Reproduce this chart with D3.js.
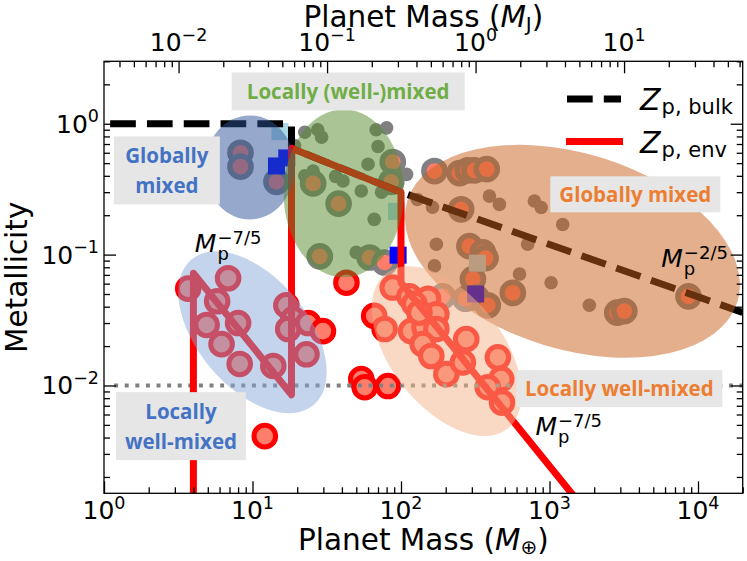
<!DOCTYPE html>
<html>
<head>
<meta charset="utf-8">
<script src="https://cdn.jsdelivr.net/npm/d3@7"></script>
<style>
body{margin:0;background:#fff}
svg{font-family:"DejaVu Sans",sans-serif}
</style>
</head>
<body>
<svg width="747" height="561"></svg>
<script>
// ---- values (mass in Earth masses, metallicity) ----
// small grey dots
var dotMass = [22.5,27.5,29.2,19.2,68, 80,70,60,22.5,25.6, 40.7,54,66,50,109, 74,394,460,791,879, 1227,173,713,168,628, 1025,1855,163,129,36.3];
var dotZ    = [0.86,0.90,0.79,0.68,0.90, 0.93,0.67,0.49,0.40,0.435, 0.365,0.306,0.186,0.104,0.41, 0.30,0.28,0.242,0.257,0.229, 0.170,0.12,0.12,0.082,0.071, 0.061,0.041,0.23,0.264,0.396];
// open rings, grey edge
var ringMass = [8.3,8.3,14.5,25.6,38, 88,86,28.4,61.5,168, 248,282,313,378,254, 289,356,371,305,321, 384,566,2860,3190,8630, 191,272,77.6];
var ringZ    = [0.60,0.47,0.36,0.35,0.245, 0.51,0.36,0.097,0.095,0.435, 0.42,0.44,0.44,0.45,0.222, 0.116,0.104,0.094,0.065,0.047, 0.041,0.051,0.036,0.037,0.048, 0.048,0.046,0.087];
// rings with red edge (envelope values)
var envMass = [3.69,6.85,5.78,4.91,8.0, 6.19,8.2,13.8,16.9,18.8, 17.4,23.7,29.8,23.1,12.1, 42.9,54,57,81.6,66, 77.6,88,114,152,123, 173,117,144,173,140, 160,202,275,261,449, 473,384,479,133];
var envZ    = [0.055,0.066,0.044,0.029,0.030, 0.0207,0.0146,0.0141,0.041,0.032, 0.027,0.030,0.026,0.0173,0.0041, 0.061,0.0112,0.0097,0.0099,0.034, 0.027,0.056,0.048,0.046,0.042, 0.035,0.026,0.0277,0.027,0.0207, 0.0168,0.0122,0.0226,0.0150,0.0164, 0.0112,0.0097,0.0074,0.036];
// squares
var blueSqMass  = [14.5,17.0,95.6,318];
var blueSqZ     = [0.476,0.548,0.099,0.050];
var lightSqMass = [15.3,93.4,327];
var lightSqZ    = [0.87,0.214,0.086];
// model curves
var bulkMass = [1.1,18.3,18.3,100,20000];
var bulkZ    = [1,1,0.65,0.3,0.0361];
var envLineMass = [4,4,18.3,18.3,100,100,3000];
var envLineZ    = [0.0005,0.072,0.0085,0.65,0.3,0.061,0.00052];
var floorMass = [1.17,20000];
var floorZ    = [0.01,0.01];
// shaded regions (centres)
var regionMass = [9.59,10.0,41.1,1426,203];
var regionZ    = [0.464,0.0255,0.294,0.106,0.0183];
// boxed labels
var labelText = [["Locally (well-)mixed"],["Globally","mixed"],["Globally mixed"],["Locally well-mixed"],["Locally","well-mixed"]];
var labelMass = [44.1,2.65,3783,2951,3.30];
var labelZ    = [1.765,0.44,0.289,0.00946,0.00489];
// power-law notes
var noteSup  = ["\u22127/5","\u22127/5","\u22122/5"];
var noteMass = [4.09,804,5660];
var noteZ    = [0.104,0.00417,0.080];
// tick labels (exponents)
var xTickExp = [0,1,2,3,4];
var yTickExp = [-2,-1,0];
var topTickExp = [-2,-1,0,1];

// ---- drawing ----
var svg = d3.select("svg");
var X0 = 104, X1 = 742.7, Y0 = 61.3, Y1 = 493.3;
var x = d3.scaleLog().domain([1, 2e4]).range([X0, X1]);
var xJ = d3.scaleLog().domain([1/317.8, 2e4/317.8]).range([X0, X1]);
var y = d3.scaleLog().domain([1.5e-3, 3]).range([Y1, Y0]);

function zip(ms, zs){ return ms.map(function(m, i){ return [m, zs[i]]; }); }
var line = d3.line().x(function(d){return x(d[0])}).y(function(d){return y(d[1])});

svg.append("defs").append("clipPath").attr("id", "plot").append("rect")
	.attr("x", X0).attr("y", Y0).attr("width", X1 - X0).attr("height", Y1 - Y0);
var plot = svg.append("g").attr("clip-path", "url(#plot)");

var salmon = "rgb(255,126,107)";

plot.selectAll("circle.dot").data(zip(dotMass, dotZ)).enter().append("circle")
	.attr("class", "dot")
	.attr("cx", function(d){return x(d[0])})
	.attr("cy", function(d){return y(d[1])})
	.attr("r", 6.8)
	.style("fill", "#808080");

plot.selectAll("circle.ring").data(zip(ringMass, ringZ)).enter().append("circle")
	.attr("class", "ring")
	.attr("cx", function(d){return x(d[0])})
	.attr("cy", function(d){return y(d[1])})
	.attr("r", 10.6)
	.style("fill", salmon).style("stroke", "#808080").style("stroke-width", 5.5);

plot.selectAll("circle.env").data(zip(envMass, envZ)).enter().append("circle")
	.attr("class", "env")
	.attr("cx", function(d){return x(d[0])})
	.attr("cy", function(d){return y(d[1])})
	.attr("r", 10.8)
	.style("fill", salmon).style("stroke", "red").style("stroke-width", 5);

function squares(ms, zs, color){
	plot.selectAll(null).data(zip(ms, zs)).enter().append("rect")
		.attr("x", function(d){return x(d[0]) - 8.5})
		.attr("y", function(d){return y(d[1]) - 8.5})
		.attr("width", 17).attr("height", 17)
		.style("fill", color);
}
squares(lightSqMass, lightSqZ, "rgb(173,216,230)");
squares(blueSqMass, blueSqZ, "blue");

plot.append("path").attr("d", line(zip(floorMass, floorZ)))
	.style("fill", "none").style("stroke", "#808080").style("stroke-width", 4)
	.style("stroke-dasharray", "4,6.6");
plot.append("path").attr("d", line(zip(bulkMass, bulkZ)))
	.style("fill", "none").style("stroke", "black").style("stroke-width", 7)
	.style("stroke-dasharray", "25.7,11.1").style("stroke-linejoin", "round");
plot.append("path").attr("d", line(zip(envLineMass, envLineZ)))
	.style("fill", "none").style("stroke", "red").style("stroke-width", 7)
	.style("stroke-linejoin", "round");

// M_p^{a} notes
function mathLabel(g, px, py, base, sub, sup, size, subSize, subDy, supDy){
	var t = g.append("text").attr("x", px).attr("y", py)
		.attr("font-size", size).attr("font-style", "italic").text(base);
	var w = t.node().getComputedTextLength();
	if (sub) g.append("text").attr("x", px + w + 1).attr("y", py + subDy).attr("font-size", subSize).text(sub);
	if (sup) g.append("text").attr("x", px + w + 1).attr("y", py - supDy).attr("font-size", subSize).text(sup);
}
var notes = svg.append("g").attr("fill", "black");
for (var i = 0; i < noteMass.length; i++){
	mathLabel(notes, x(noteMass[i]), y(noteZ[i]), "M", "p", noteSup[i], 25, 18, 8, 8);
}

// shaded regions on top, translucent
var regionStyle = [
	{rx: 45, ry: 52, rot: 0, fill: "rgb(45,84,153)", op: 0.5},
	{rx: 95, ry: 55, rot: 50, fill: "rgb(132,165,215)", op: 0.48},
	{rx: 60, ry: 84, rot: 0, fill: "rgb(85,137,45)", op: 0.5},
	{rx: 172.6, ry: 98, rot: 17, fill: "rgb(199,95,25)", op: 0.5},
	{rx: 98.6, ry: 55.8, rot: 52, fill: "rgb(243,177,137)", op: 0.5}
];
plot.selectAll("ellipse").data(zip(regionMass, regionZ)).enter().append("ellipse")
	.attr("transform", function(d, i){
		return "translate(" + x(d[0]) + "," + y(d[1]) + ") rotate(" + regionStyle[i].rot + ")";
	})
	.attr("rx", function(d, i){return regionStyle[i].rx})
	.attr("ry", function(d, i){return regionStyle[i].ry})
	.style("fill", function(d, i){return regionStyle[i].fill})
	.style("fill-opacity", function(d, i){return regionStyle[i].op});

// boxed labels
var labelStyle = [
	{w: 233, h: 38, color: "#70ad47"},
	{w: 106, h: 68, color: "#4472c4"},
	{w: 170, h: 36, color: "#ed7d31"},
	{w: 206, h: 37, color: "#ed7d31"},
	{w: 130, h: 68, color: "#4472c4"}
];
labelText.forEach(function(lines, i){
	var cx = x(labelMass[i]), cy = y(labelZ[i]), s = labelStyle[i];
	svg.append("rect").attr("x", cx - s.w/2).attr("y", cy - s.h/2)
		.attr("width", s.w).attr("height", s.h).style("fill", "#e6e6e6");
	lines.forEach(function(t, k){
		var base = lines.length == 1 ? cy + 7.5 : cy - 7.5 + 30*k;
		svg.append("text").attr("x", cx).attr("y", base)
			.attr("text-anchor", "middle")
			.style("font-family", "'Open Sans', sans-serif")
			.style("font-weight", "bold").style("font-size", "20.5px")
			.style("fill", s.color).text(t);
	});
});

// legend
var leg = svg.append("g");
leg.append("line").attr("x1", 567).attr("x2", 621).attr("y1", 99).attr("y2", 99)
	.style("stroke", "black").style("stroke-width", 7).style("stroke-dasharray", "25.7,11.1");
leg.append("line").attr("x1", 566).attr("x2", 623).attr("y1", 141.5).attr("y2", 141.5)
	.style("stroke", "red").style("stroke-width", 7);
mathLabel(leg, 640, 110, "Z", "p, bulk", null, 30, 21, 4, 0);
mathLabel(leg, 640, 153, "Z", "p, env", null, 30, 21, 4, 0);

// frame and ticks
function isMajor(v){ var l = Math.log10(v); return Math.abs(l - Math.round(l)) < 1e-6; }
function ticks(axis, scale, tr){
	var all = scale.ticks();
	var maj = all.filter(isMajor), mnr = all.filter(function(v){return !isMajor(v)});
	[[maj, 12], [mnr, 6]].forEach(function(p){
		var g = svg.append("g").attr("transform", tr)
			.call(axis(scale).tickValues(p[0]).tickSize(-p[1]).tickFormat(""));
		g.select(".domain").remove();
		g.selectAll("line").style("stroke", "black").style("stroke-width", 1.3);
	});
}
ticks(d3.axisBottom, x, "translate(0," + Y1 + ")");
ticks(d3.axisTop, xJ, "translate(0," + Y0 + ")");
ticks(d3.axisLeft, y, "translate(" + X0 + ",0)");
ticks(d3.axisRight, y, "translate(" + X1 + ",0)");
svg.append("rect").attr("x", X0).attr("y", Y0).attr("width", X1 - X0).attr("height", Y1 - Y0)
	.style("fill", "none").style("stroke", "black").style("stroke-width", 1.3);

function expText(e){ return e < 0 ? "\u2212" + (-e) : "" + e; }
function powLabel(px, py, e, anchor){
	var t = svg.append("text").attr("x", px).attr("y", py)
		.attr("text-anchor", anchor).attr("font-size", 25).text("10");
	t.append("tspan").attr("dy", -10.5).attr("font-size", 17.5).text(expText(e));
}
xTickExp.forEach(function(e){ powLabel(x(Math.pow(10, e)), 519, e, "middle"); });
topTickExp.forEach(function(e){ powLabel(xJ(Math.pow(10, e)), 51, e, "middle"); });
yTickExp.forEach(function(e){ powLabel(99, y(Math.pow(10, e)) + 9, e, "end"); });

// axis titles
function massTitle(py, sub){
	var t = svg.append("text").attr("x", (X0 + X1)/2).attr("y", py)
		.attr("text-anchor", "middle").attr("font-size", 29.5);
	t.append("tspan").text("Planet Mass (");
	t.append("tspan").attr("font-style", "italic").text("M");
	t.append("tspan").attr("font-size", 20).attr("dy", 4).text(sub);
	t.append("tspan").attr("dy", -4).text(")");
}
massTitle(550, "\u2295");
massTitle(27, "J");
svg.append("text").attr("transform", "translate(27," + (Y0 + Y1)/2 + ") rotate(-90)")
	.attr("text-anchor", "middle").attr("font-size", 29.5).text("Metallicity");
</script>
</body>
</html>
